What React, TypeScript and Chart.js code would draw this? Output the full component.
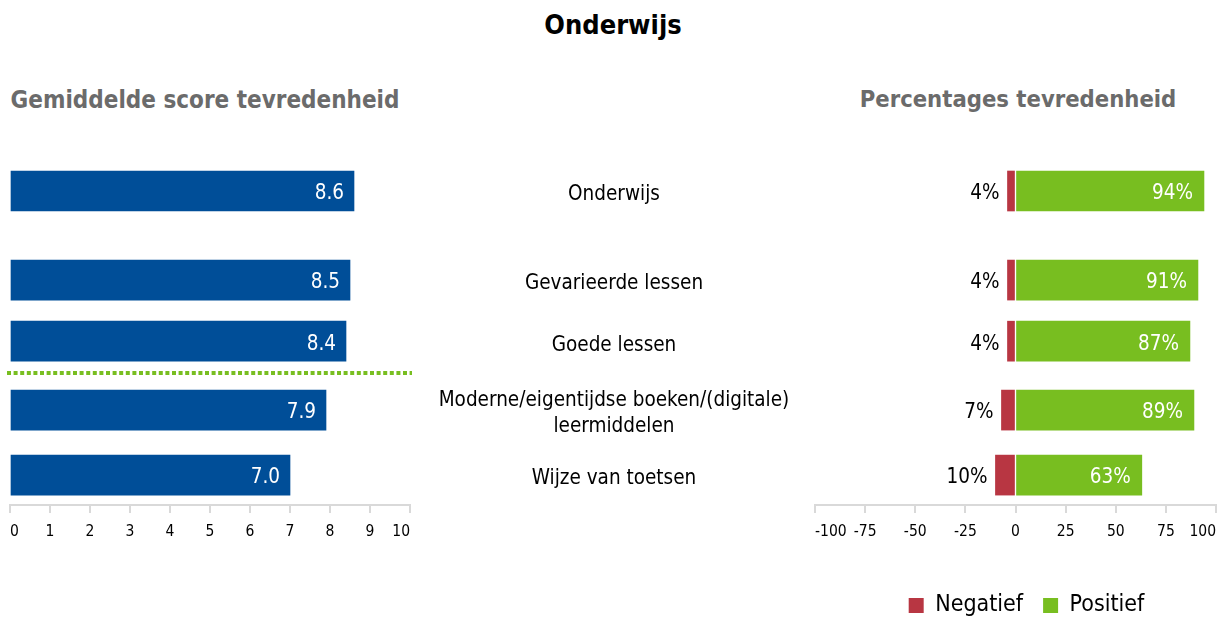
import React, { useEffect, useRef } from "react";
import { Chart, registerables } from "chart.js";

Chart.register(...registerables);

// ---------- data ----------
const categories = [
  "Onderwijs",
  "Gevarieerde lessen",
  "Goede lessen",
  "Moderne/eigentijdse boeken/(digitale)\nleermiddelen",
  "Wijze van toetsen",
];
const scores = [8.6, 8.5, 8.4, 7.9, 7.0];
const negatief = [4, 4, 4, 7, 10];
const positief = [94, 91, 87, 89, 63];
const scoreTicks = [0, 1, 2, 3, 4, 5, 6, 7, 8, 9, 10];
const percentTicks = [-100, -75, -50, -25, 0, 25, 50, 75, 100];
const legendLabels = ["Negatief", "Positief"];

const mainTitle = "Onderwijs";
const leftTitle = "Gemiddelde score tevredenheid";
const rightTitle = "Percentages tevredenheid";

// ---------- layout / style ----------
const ROW_POS = [0, 1.37, 2.31, 3.37, 4.37];
const SEPARATOR_POS = 2.8;
const Y_MIN = -0.8;
const Y_MAX = 4.83;
const FONT = '"DejaVu Sans Condensed", "DejaVu Sans", sans-serif';
const BLUE = "#004e98";
const RED = "#b83642";
const GREEN = "#78be20";
const AXIS = "#d9d9d9";
const LABEL_SIZE = 20.5;
const LEGEND_SHIFT = 11;

const valueLabelPlugin = {
  id: "valueLabels",
  afterDatasetsDraw(chart: any) {
    const ctx = chart.ctx;
    ctx.save();
    ctx.font = `${LABEL_SIZE}px ${FONT}`;
    ctx.textBaseline = "middle";
    ctx.textAlign = "right";
    chart.data.datasets.forEach((ds: any, di: number) => {
      const meta = chart.getDatasetMeta(di);
      meta.data.forEach((bar: any, i: number) => {
        const kind = ds.labelKind;
        const y = bar.y + 3;
        if (kind === "score") {
          ctx.fillStyle = "#ffffff";
          ctx.fillText(scores[i].toFixed(1), bar.x - 10, y);
        } else if (kind === "neg") {
          ctx.fillStyle = "#000000";
          ctx.fillText(`${negatief[i]}%`, bar.x - 8, y);
        } else if (kind === "pos") {
          ctx.fillStyle = "#ffffff";
          ctx.fillText(`${positief[i]}%`, bar.x - 11, y);
        }
      });
    });
    ctx.restore();
  },
};

const separatorPlugin = {
  id: "separator",
  afterDatasetsDraw(chart: any) {
    const ctx = chart.ctx;
    const y = chart.scales.y.getPixelForValue(SEPARATOR_POS);
    ctx.save();
    ctx.strokeStyle = GREEN;
    ctx.lineWidth = 4;
    ctx.setLineDash([4, 2.6]);
    ctx.beginPath();
    ctx.moveTo(chart.chartArea.left - 3, y);
    ctx.lineTo(chart.chartArea.right + 2, y);
    ctx.stroke();
    ctx.restore();
  },
};

const categoryLabelPlugin = {
  id: "categoryLabels",
  afterDraw(chart: any) {
    const ctx = chart.ctx;
    const yScale = chart.scales.y;
    const cx = chart.options.plugins.categoryLabels.centerX;
    ctx.save();
    ctx.font = `${LABEL_SIZE}px ${FONT}`;
    ctx.fillStyle = "#000000";
    ctx.textAlign = "center";
    ctx.textBaseline = "middle";
    categories.forEach((c, i) => {
      const lines = c.split("\n");
      const y0 = yScale.getPixelForValue(ROW_POS[i]);
      const lh = 26;
      lines.forEach((ln, k) => {
        ctx.fillText(ln, cx, y0 + (k - (lines.length - 1) / 2) * lh + 4);
      });
    });
    ctx.restore();
  },
};

const legendShiftPlugin = {
  id: "legendShift",
  beforeDraw(chart: any) {
    const lg = chart.legend;
    if (lg && !lg._shifted) {
      lg.left += LEGEND_SHIFT;
      lg.right += LEGEND_SHIFT;
      lg._shifted = true;
    }
  },
};

function axisX(min: number, max: number, ticks: number[], height: number, stacked = false) {
  return {
    type: "linear",
    min,
    max,
    stacked,
    afterBuildTicks: (s: any) => {
      s.ticks = ticks.map((v) => ({ value: v }));
    },
    afterFit: (s: any) => {
      s.height = height;
    },
    grid: {
      drawOnChartArea: false,
      drawTicks: true,
      tickLength: 8,
      color: AXIS,
      lineWidth: 2,
    },
    border: { display: true, color: AXIS, width: 2 },
    ticks: {
      font: { family: FONT, size: 15.5 },
      color: "#000000",
      padding: 10,
      maxRotation: 0,
      autoSkip: false,
      align: "inner",
    },
  };
}

function axisY(stacked = false) {
  return {
    type: "linear",
    min: Y_MIN,
    max: Y_MAX,
    reverse: true,
    display: false,
    offset: false,
    stacked,
  };
}

export default function App() {
  const leftRef = useRef<HTMLCanvasElement>(null);
  const rightRef = useRef<HTMLCanvasElement>(null);

  useEffect(() => {
    const left = new Chart(leftRef.current as HTMLCanvasElement, {
      type: "bar",
      data: {
        datasets: [
          {
            labelKind: "score",
            data: scores.map((v, i) => ({ x: v, y: ROW_POS[i] })),
            backgroundColor: BLUE,
            barThickness: 40,
          } as any,
        ],
      },
      options: {
        indexAxis: "y",
        animation: false,
        responsive: false,
        maintainAspectRatio: false,
        layout: { padding: { top: 139, left: 10, right: 8, bottom: 0 } },
        plugins: { legend: { display: false }, tooltip: { enabled: false } },
        scales: {
          x: axisX(0, 10, scoreTicks, 55) as any,
          y: axisY() as any,
        },
      },
      plugins: [valueLabelPlugin, separatorPlugin],
    });

    const right = new Chart(rightRef.current as HTMLCanvasElement, {
      type: "bar",
      data: {
        datasets: [
          {
            label: legendLabels[0],
            labelKind: "neg",
            data: negatief.map((v, i) => ({ x: -v, y: ROW_POS[i] })),
            backgroundColor: RED,
            barThickness: 40,
          } as any,
          {
            label: legendLabels[1],
            labelKind: "pos",
            data: positief.map((v, i) => ({ x: v, y: ROW_POS[i] })),
            backgroundColor: GREEN,
            barThickness: 40,
          } as any,
        ],
      },
      options: {
        indexAxis: "y",
        animation: false,
        responsive: false,
        maintainAspectRatio: false,
        layout: { padding: { top: 139, left: 395, right: 9, bottom: 0 } },
        plugins: {
          tooltip: { enabled: false },
          legend: {
            position: "bottom",
            fullSize: false,
            labels: {
              boxWidth: 15,
              boxHeight: 15,
              padding: 20,
              color: "#000000",
              font: { family: FONT, size: 23 },
            },
          },
          categoryLabels: { centerX: 194 },
        } as any,
        scales: {
          x: axisX(-100, 100, percentTicks, 69, true) as any,
          y: axisY(true) as any,
        },
      },
      plugins: [valueLabelPlugin, categoryLabelPlugin, legendShiftPlugin],
    });

    return () => {
      left.destroy();
      right.destroy();
    };
  }, []);

  const headStyle: React.CSSProperties = {
    position: "absolute",
    fontFamily: FONT,
    fontWeight: "bold",
    whiteSpace: "nowrap",
    textAlign: "center",
    lineHeight: "1",
  };

  return (
    <div
      style={{
        position: "absolute",
        left: 0,
        top: 0,
        width: 1226,
        height: 618,
        overflow: "hidden",
        background: "#ffffff",
      }}
    >
      <div style={{ ...headStyle, left: 0, width: 1226, top: 11, fontSize: 27, color: "#000000" }}>
        {mainTitle}
      </div>
      <div style={{ ...headStyle, left: 0, width: 410, top: 88, fontSize: 24, color: "#6b6b6b" }}>
        {leftTitle}
      </div>
      <div style={{ ...headStyle, left: 818, width: 400, top: 88, fontSize: 23.6, color: "#6b6b6b" }}>
        {rightTitle}
      </div>
      <canvas
        ref={leftRef}
        width={420}
        height={560}
        style={{ position: "absolute", left: 0, top: 0, width: 420, height: 560 }}
      />
      <canvas
        ref={rightRef}
        width={806}
        height={627}
        style={{ position: "absolute", left: 420, top: 0, width: 806, height: 627 }}
      />
    </div>
  );
}
